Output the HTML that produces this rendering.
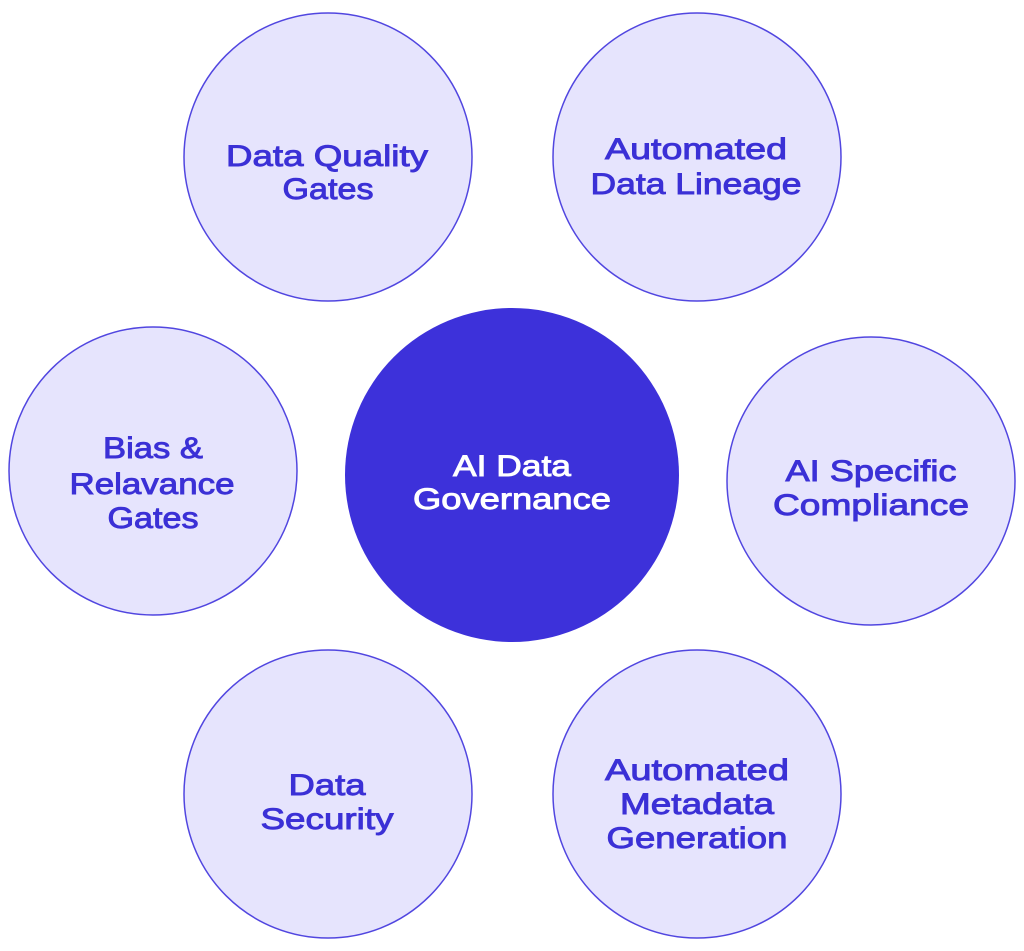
<!DOCTYPE html>
<html><head><meta charset="utf-8"><style>
html,body{margin:0;padding:0;background:#fff;}
svg{display:block;}
text{font-family:"Liberation Sans",sans-serif;font-weight:normal;font-size:30px;text-anchor:middle;stroke-width:0.9px;}
.c{fill:#e6e4fd;stroke:#5146e0;stroke-width:1.5;}
.t{fill:#3b30d6;stroke:#3b30d6;}
.w{fill:#fff;stroke:#fff;}
</style></head><body>
<svg width="1024" height="951" viewBox="0 0 1024 951" xmlns="http://www.w3.org/2000/svg">
<circle class="c" cx="328" cy="157" r="144"/>
<circle class="c" cx="697" cy="157" r="144"/>
<circle class="c" cx="153" cy="471" r="144"/>
<circle cx="512" cy="475" r="167" fill="#3d31da"/>
<circle class="c" cx="871" cy="481" r="144"/>
<circle class="c" cx="328" cy="794" r="144"/>
<circle class="c" cx="697" cy="794" r="144"/>

<text class="t" x="327" y="166" textLength="202" lengthAdjust="spacingAndGlyphs">Data Quality</text>
<text class="t" x="328" y="199" textLength="91" lengthAdjust="spacingAndGlyphs">Gates</text>

<text class="t" x="696" y="159" textLength="182" lengthAdjust="spacingAndGlyphs">Automated</text>
<text class="t" x="696" y="194" textLength="211" lengthAdjust="spacingAndGlyphs">Data Lineage</text>

<text class="t" x="153" y="458" textLength="100" lengthAdjust="spacingAndGlyphs">Bias &amp;</text>
<text class="t" x="152" y="494" textLength="165" lengthAdjust="spacingAndGlyphs">Relavance</text>
<text class="t" x="153" y="528" textLength="91" lengthAdjust="spacingAndGlyphs">Gates</text>

<text class="w" x="512" y="476" textLength="118" lengthAdjust="spacingAndGlyphs">AI Data</text>
<text class="w" x="512" y="509" textLength="198" lengthAdjust="spacingAndGlyphs">Governance</text>

<text class="t" x="871" y="481" textLength="171" lengthAdjust="spacingAndGlyphs">AI Specific</text>
<text class="t" x="871" y="515" textLength="196" lengthAdjust="spacingAndGlyphs">Compliance</text>

<text class="t" x="327" y="795" textLength="77" lengthAdjust="spacingAndGlyphs">Data</text>
<text class="t" x="327" y="829" textLength="133" lengthAdjust="spacingAndGlyphs">Security</text>

<text class="t" x="697" y="780" textLength="184" lengthAdjust="spacingAndGlyphs">Automated</text>
<text class="t" x="697" y="814" textLength="154" lengthAdjust="spacingAndGlyphs">Metadata</text>
<text class="t" x="697" y="848" textLength="181" lengthAdjust="spacingAndGlyphs">Generation</text>
</svg>
</body></html>
